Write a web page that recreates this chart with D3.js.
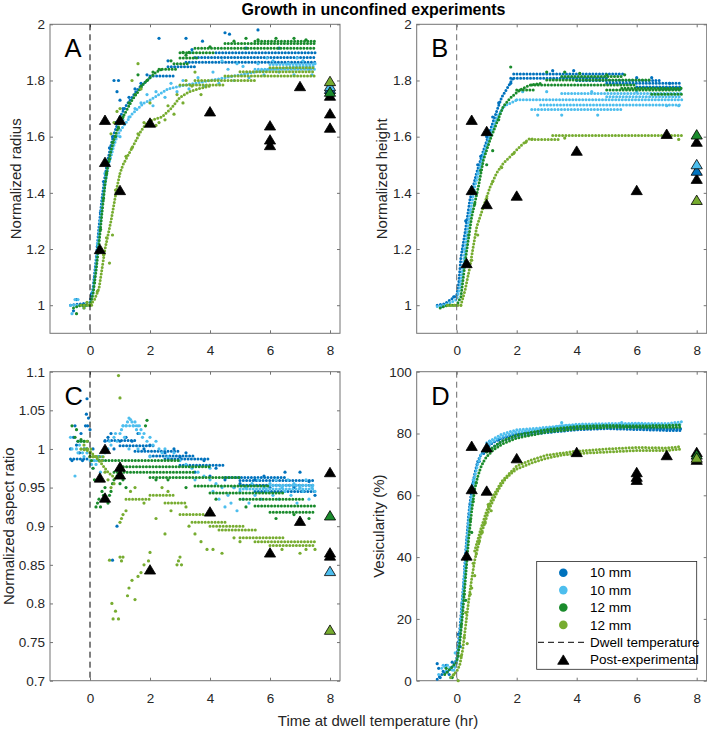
<!DOCTYPE html>
<html><head><meta charset="utf-8">
<script src="https://cdn.jsdelivr.net/npm/d3@7"></script>
<style>body{margin:0;background:#fff}svg{display:block}text{font-family:"Liberation Sans",Arial,Helvetica,sans-serif}</style>
</head><body><svg id="chart" width="707" height="731"></svg>
<script>
// ---------------- DATA ----------------
const titleText = 'Growth in unconfined experiments';
const xLabelText = 'Time at dwell temperature (hr)';
const seriesNames = ['10 mm','10 mm','12 mm','12 mm'];
const legendExtra = ['Dwell temperature','Post-experimental'];
const panelLetters = ['A','B','C','D'];
const yLabels = ['Normalized radius','Normalized height','Normalized aspect ratio','Vesicularity (%)'];
const xTicks = [0,2,4,6,8];
const yTicksA = [1,1.2,1.4,1.6,1.8,2];
const yTicksB = [1,1.2,1.4,1.6,1.8,2];
const yTicksC = [0.7,0.75,0.8,0.85,0.9,0.95,1,1.05,1.1];
const yTicksD = [0,20,40,60,80,100];

// Panel A : normalized radius  (curve = dense trace, pts = single dots, runs = [t0,t1,value] quantized rows)
const A1_curve = [[-0.65,1.0],[-0.3,1.005],[0,1.01],[0.1,1.06],[0.2,1.16],[0.3,1.28],[0.4,1.38],[0.5,1.46],[0.6,1.52],[0.7,1.57],[0.8,1.61],[0.9,1.64],[1.0,1.67],[1.2,1.71],[1.4,1.74],[1.6,1.77],[1.8,1.79],[2.0,1.81]];
const A1_pts = [[-0.55,0.98],[-0.45,1.02],[-0.2,0.995],[0.05,1.04],[0.15,1.1],[0.25,1.21],[0.35,1.33],[0.45,1.44],[0.55,1.5],[0.65,1.56],[0.75,1.6],[0.85,1.65],[0.8,1.8],[0.95,1.8],[0.9,1.76],[1.0,1.73],[1.1,1.7],[1.3,1.74],[1.5,1.77],[1.7,1.79],[1.9,1.82],[2.3,1.95],[3.2,1.95],[3.75,1.94],[4.5,1.97],[4.65,1.965],[5.6,1.98],[2.6,1.87],[3.4,1.91],[5.2,1.915],[6.3,1.915]];
const A1_runs = [[2.0,2.8,1.816],[2.6,3.5,1.849],[3.2,7.5,1.865],[3.5,7.5,1.882],[4.2,7.5,1.899]];
const A2_curve = [[-0.65,1.0],[-0.3,1.0],[0,1.0],[0.1,1.05],[0.2,1.14],[0.3,1.25],[0.4,1.35],[0.5,1.43],[0.6,1.49],[0.7,1.53],[0.8,1.57],[0.9,1.6],[1.0,1.62],[1.2,1.65],[1.4,1.68],[1.6,1.7],[1.8,1.72],[2.0,1.73],[2.3,1.75],[2.6,1.77],[3.0,1.78],[3.5,1.79],[4.0,1.8],[4.5,1.81],[5.0,1.82],[5.5,1.83],[6.0,1.84],[6.5,1.845],[7.0,1.85],[7.5,1.85]];
const A2_pts = [[-0.6,0.97],[-0.5,1.02],[-0.4,1.02],[-0.2,0.99],[0.25,1.22],[0.35,1.3],[0.5,1.47],[0.7,1.55],[1.0,1.6],[1.1,1.66],[1.3,1.67],[1.5,1.7],[1.7,1.72],[1.9,1.75],[2.1,1.71],[2.2,1.76],[2.5,1.74],[2.7,1.79],[2.9,1.76],[3.1,1.8],[3.3,1.77],[3.6,1.81],[3.8,1.78],[4.1,1.83],[4.3,1.79],[4.6,1.84],[4.8,1.8],[5.1,1.85],[5.3,1.81],[5.6,1.86],[5.8,1.82],[6.1,1.87],[6.3,1.83],[6.6,1.86],[6.8,1.82],[7.1,1.87],[7.3,1.84],[7.5,1.86],[3.4,1.9],[4.4,1.87],[5.9,1.88],[4.9,1.86],[6.9,1.88],[7.4,1.82]];
const A2_runs = [[5.5,7.5,1.84],[6.0,7.5,1.857]];
const A3_curve = [[-0.55,0.99],[-0.3,1.0],[0,1.0],[0.1,1.04],[0.2,1.12],[0.3,1.22],[0.4,1.33],[0.5,1.43],[0.6,1.5],[0.7,1.55],[0.8,1.59],[0.9,1.62],[1.0,1.65],[1.2,1.69],[1.4,1.73],[1.6,1.76],[1.8,1.79],[2.0,1.81],[2.2,1.83],[2.4,1.84]];
const A3_pts = [[-0.45,0.97],[-0.2,1.0],[0.15,1.08],[0.35,1.27],[0.45,1.38],[0.55,1.47],[0.65,1.52],[0.75,1.58],[0.85,1.6],[0.95,1.63],[1.1,1.67],[1.3,1.72],[1.5,1.75],[1.7,1.78],[1.9,1.8],[2.1,1.83],[1.6,1.82],[3.2,1.89],[3.3,1.9],[4.0,1.92],[5.2,1.95],[5.6,1.945],[6.2,1.95],[6.8,1.95],[7.2,1.945],[4.8,1.94],[2.7,1.87],[3.1,1.9]];
const A3_runs = [[2.3,2.9,1.84],[2.8,3.3,1.86],[3.0,3.6,1.88],[3.0,4.2,1.899],[3.5,7.5,1.915],[4.5,7.5,1.932],[5.5,7.5,1.94]];
const A4_curve = [[-0.3,1.0],[0,1.0],[0.15,1.02],[0.3,1.06],[0.4,1.13],[0.5,1.2],[0.6,1.25],[0.7,1.3],[0.8,1.36],[0.9,1.42],[1.0,1.47],[1.1,1.5],[1.3,1.54],[1.5,1.58],[1.7,1.62],[1.9,1.65],[2.1,1.66],[2.4,1.67],[2.7,1.7],[3.0,1.74],[3.3,1.76],[3.6,1.77],[4.0,1.78]];
const A4_pts = [[-0.2,0.99],[-0.1,1.01],[0.05,1.0],[0.25,1.05],[0.45,1.18],[0.55,1.24],[0.65,1.15],[0.75,1.25],[0.85,1.41],[0.7,1.61],[0.8,1.65],[0.9,1.69],[1.0,1.7],[1.05,1.66],[1.2,1.53],[1.4,1.56],[1.6,1.61],[1.8,1.65],[1.6,1.86],[1.4,1.8],[1.7,1.77],[2.0,1.72],[2.2,1.64],[2.3,1.65],[2.5,1.66],[2.6,1.71],[2.8,1.68],[2.9,1.75],[3.1,1.72],[3.4,1.78],[3.2,1.8],[3.5,1.83],[3.7,1.75]];
const A4_runs = [[3.0,4.5,1.784],[3.5,5.5,1.8],[4.5,7.5,1.816],[5.0,7.5,1.831],[6.0,7.5,1.845]];
const A_tri = [[0.33,1.2,'k'],[0.5,1.51,'k'],[0.5,1.66,'k'],[1,1.66,'k'],[1,1.41,'k'],[2,1.65,'k'],[4,1.69,'k'],[6,1.64,'k'],[6,1.59,'k'],[6,1.57,'k'],[7,1.78,'k'],[8,1.632,'k'],[8,1.683,'k'],[8,1.746,'k'],[8,1.77,'s1'],[8,1.78,'s2'],[8,1.76,'s3'],[8,1.798,'s4']];

// Panel B : normalized height
const B1_curve = [[-0.65,1.0],[-0.4,1.005],[-0.2,1.02],[0,1.035],[0.07,1.08],[0.14,1.17],[0.28,1.26],[0.44,1.375],[0.66,1.47],[0.89,1.55],[1.11,1.62],[1.33,1.69],[1.5,1.74],[1.67,1.77],[1.89,1.81]];
const B1_pts = [[3.2,1.835],[3.9,1.835],[0.3,1.3],[0.5,1.42],[0.7,1.5],[1.0,1.6],[1.2,1.67],[6.0,1.81],[6.5,1.81],[7.1,1.79],[-0.5,0.995],[-0.1,1.03],[0.2,1.2],[0.8,1.53],[1.4,1.72],[1.8,1.79]];
const B1_runs = [[1.9,5.6,1.823],[1.8,5.0,1.808],[4.0,6.8,1.8],[5.0,7.5,1.79],[6.0,7.5,1.777],[6.8,7.5,1.77]];
const B2_curve = [[-0.65,0.995],[-0.4,1.0],[-0.2,1.01],[0,1.02],[0.1,1.06],[0.2,1.13],[0.3,1.22],[0.4,1.3],[0.5,1.36],[0.6,1.42],[0.8,1.5],[1.0,1.57],[1.2,1.63],[1.4,1.68],[1.6,1.71],[1.8,1.72],[2.0,1.73]];
const B2_pts = [[2.7,1.677],[3.5,1.677],[4.7,1.677],[2.2,1.76],[3.0,1.76],[4.5,1.76],[6.0,1.76],[7.0,1.71],[7.4,1.71],[0.25,1.2],[0.45,1.33],[0.7,1.47],[0.9,1.54],[1.1,1.6]];
const B2_runs = [[2.0,7.5,1.731],[3.5,7.5,1.754],[2.8,7.5,1.713],[2.5,5.5,1.697],[5.0,7.5,1.742]];
const B3_curve = [[-0.55,0.99],[-0.3,1.0],[0,1.0],[0.14,1.03],[0.32,1.185],[0.5,1.315],[0.72,1.42],[0.89,1.517],[1.11,1.588],[1.33,1.648],[1.55,1.707],[1.78,1.737],[2.1,1.766],[2.44,1.784],[2.8,1.79]];
const B3_pts = [[1.8,1.848],[3.0,1.83],[3.6,1.83],[4.1,1.825],[5.0,1.82],[5.6,1.82],[1.2,1.55],[0.6,1.36],[1.0,1.5],[0.4,1.25],[0.8,1.48],[1.4,1.66]];
const B3_runs = [[2.5,6.0,1.784],[3.0,6.5,1.802],[3.5,5.5,1.814],[5.5,7.5,1.772],[5.0,7.5,1.766],[6.5,7.5,1.751],[2.0,2.6,1.766]];
const B4_curve = [[-0.3,1.0],[0,1.0],[0.14,1.0],[0.28,1.054],[0.44,1.137],[0.55,1.208],[0.67,1.28],[0.89,1.35],[1.11,1.42],[1.33,1.47],[1.55,1.505],[1.78,1.529],[2.0,1.553],[2.22,1.576],[2.44,1.594],[2.6,1.59]];
const B4_pts = [[7.4,1.59],[3.6,1.595],[0.5,1.16],[0.7,1.25],[1.0,1.38],[1.2,1.44],[1.5,1.49],[1.9,1.54],[2.3,1.58]];
const B4_runs = [[2.5,3.4,1.59],[3.2,7.5,1.604],[-0.3,0.2,1.0]];
const B_tri = [[0.33,1.15,'k'],[0.5,1.66,'k'],[0.5,1.41,'k'],[1,1.62,'k'],[1,1.36,'k'],[2,1.39,'k'],[4,1.55,'k'],[6,1.41,'k'],[7,1.61,'k'],[8,1.582,'k'],[8,1.45,'k'],[8,1.479,'s1'],[8,1.502,'s2'],[8,1.608,'s3'],[8,1.375,'s4']];

// Panel C : normalized aspect ratio
const C1_curve = [];
const C1_pts = [[-0.65,1.0],[-0.6,0.985],[-0.55,1.015],[-0.5,1.03],[-0.45,1.005],[-0.4,1.01],[-0.35,0.995],[-0.3,1.02],[-0.25,0.985],[-0.2,1.0],[-0.15,1.03],[-0.12,1.045],[-0.1,1.065],[-0.05,1.04],[0,1.025],[-0.08,1.03],[0.1,1.0],[0.3,0.99],[0.5,1.01],[0.6,1.015],[0.7,1.02],[0.8,1.0],[0.9,0.9],[0.75,0.856],[1.0,1.01],[1.2,1.015],[1.4,1.01],[1.6,1.02],[1.8,1.0],[2.0,1.005],[2.5,0.995],[3.0,0.99],[3.5,0.97],[4.0,0.965],[4.5,0.96],[5.0,0.955],[5.5,0.96],[6.0,0.95],[6.5,0.97],[7.0,0.97],[7.5,0.94],[4.8,0.95],[5.8,0.965],[6.8,0.95],[7.3,0.958],[3.8,0.985],[4.2,0.975],[2.8,1.0],[3.2,0.995]];
const C1_runs = [[-0.65,-0.05,0.987],[0.5,1.5,1.011],[1.0,2.2,1.004],[1.5,3.0,0.997],[2.0,3.5,0.991],[2.5,4.0,0.987],[3.0,4.5,0.979],[4.5,6.5,0.963],[5.0,7.5,0.959],[5.0,7.5,0.953],[5.5,7.5,0.945]];
const C2_curve = [];
const C2_pts = [[-0.65,1.015],[-0.6,1.0],[-0.5,0.965],[-0.45,1.0],[-0.4,0.995],[-0.35,1.005],[-0.3,1.01],[-0.25,0.995],[-0.2,0.99],[-0.15,1.0],[-0.1,0.995],[0,0.99],[0.05,0.98],[0.1,0.975],[0.15,0.985],[0.2,0.98],[0.25,0.99],[0.3,0.985],[0.4,0.99],[0.5,0.995],[0.6,1.0],[0.65,1.01],[0.7,1.005],[0.8,1.015],[0.85,1.02],[0.9,1.01],[1.0,1.02],[1.05,1.025],[1.1,1.03],[1.15,1.015],[1.2,1.03],[1.25,1.035],[1.3,1.04],[1.35,1.038],[1.4,1.035],[1.45,1.03],[1.5,1.035],[1.55,1.025],[1.6,1.03],[1.65,1.02],[1.7,1.025],[1.75,1.015],[1.8,1.02],[1.9,1.01],[2.0,1.015],[2.1,1.005],[2.2,1.01],[2.3,1.0],[2.4,0.995],[2.5,1.0],[2.6,0.99],[2.8,0.995],[3.0,0.985],[3.2,0.98],[3.4,0.975],[3.6,0.97],[3.8,0.965],[4.0,0.96],[4.1,0.945],[4.2,0.955],[4.3,0.935],[4.4,0.95],[4.5,0.925],[4.6,0.94],[4.7,0.93],[4.8,0.95],[4.9,0.92],[5.0,0.945],[5.1,0.935],[5.2,0.95],[5.3,0.93],[5.4,0.955],[5.5,0.94],[5.6,0.96],[5.7,0.935],[5.8,0.95],[5.9,0.945],[6.0,0.955],[6.1,0.94],[6.2,0.96],[6.3,0.935],[6.4,0.95],[6.5,0.945],[6.6,0.96],[6.7,0.94],[6.8,0.955],[6.9,0.93],[7.0,0.95],[7.1,0.945],[7.2,0.96],[7.3,0.935],[7.4,0.95],[7.5,0.945],[0.35,0.97],[1.6,1.0],[2.0,0.99],[1.3,1.0],[3.5,0.96],[4.0,0.975]];
const C2_runs = [[5.0,7.5,0.948],[6.0,7.5,0.953],[0.0,0.5,0.985],[1.1,1.7,1.03]];
const C3_curve = [];
const C3_pts = [[-0.6,1.03],[-0.5,1.015],[-0.45,1.025],[-0.4,1.01],[-0.3,1.012],[-0.2,1.01],[-0.1,1.0],[0,0.99],[0.1,0.975],[0.2,0.925],[0.25,0.93],[0.3,0.935],[0.35,0.925],[0.4,0.945],[0.45,0.94],[0.5,0.95],[0.55,0.935],[0.6,0.93],[0.65,0.94],[0.7,0.945],[0.75,0.955],[0.8,0.96],[0.9,0.965],[1.0,0.955],[1.1,0.96],[1.2,0.95],[1.9,1.037],[1.85,1.03],[2.2,0.96],[2.6,0.96],[3.2,0.95],[4.2,0.935],[5.2,0.925],[6.2,0.91],[7.0,0.905],[7.3,0.91],[6.8,0.915],[0.15,0.96],[0.05,0.985]];
const C3_runs = [[-0.3,0.0,1.01],[0.3,3.0,0.985],[1.0,4.0,0.977],[0.8,3.5,0.97],[2.0,5.0,0.963],[3.5,6.0,0.952],[4.0,6.5,0.943],[5.0,7.2,0.935],[5.5,7.5,0.926],[6.0,7.5,0.918]];
const C4_curve = [[-0.3,1.0],[0,0.997],[0.3,0.985],[0.6,0.97],[0.9,0.96]];
const C4_pts = [[-0.2,1.005],[-0.1,1.01],[0,0.995],[0.1,0.99],[0.2,0.99],[0.4,0.985],[0.5,0.97],[0.6,0.96],[0.7,0.95],[0.8,0.955],[0.95,1.095],[1.0,1.066],[0.65,0.856],[0.73,0.8],[0.77,0.78],[0.85,0.79],[0.95,0.78],[1.0,0.86],[1.05,0.855],[1.1,0.86],[1.25,0.81],[1.3,0.82],[1.4,0.83],[1.5,0.805],[1.6,0.835],[1.7,0.84],[1.8,0.85],[1.95,0.855],[2.0,0.866],[1.1,0.915],[1.2,0.92],[1.35,0.945],[1.5,0.95],[1.8,0.93],[2.2,0.91],[2.5,0.89],[2.9,0.85],[2.95,0.855],[3.0,0.86],[3.05,0.85],[3.3,0.9],[3.5,0.89],[3.7,0.88],[3.9,0.87],[4.1,0.87],[4.4,0.865],[5.0,0.88],[4.8,0.885],[6.4,0.87],[7.0,0.865],[7.2,0.87],[7.5,0.87],[1.0,0.905],[1.05,0.91],[2.7,0.92],[3.2,0.925],[2.4,0.95],[2.6,0.945]];
const C4_runs = [[-0.3,0.1,1.0],[0.0,0.5,0.99],[1.2,2.0,0.935],[2.0,2.8,0.94],[2.5,3.2,0.93],[3.0,3.8,0.915],[3.4,4.5,0.905],[4.0,5.2,0.9],[4.3,5.6,0.895],[5.0,6.5,0.885],[5.5,7.5,0.88],[6.0,7.5,0.875]];
const C_tri = [[0.33,0.963,'k'],[0.5,1.0,'k'],[0.5,0.937,'k'],[1,0.977,'k'],[1,0.967,'k'],[2,0.844,'k'],[4,0.919,'k'],[6,0.866,'k'],[7,0.907,'k'],[8,0.97,'k'],[8,0.866,'k'],[8,0.862,'k'],[8,0.842,'s2'],[8,0.914,'s3'],[8,0.766,'s4']];

// Panel D : vesicularity (%)
const D1_curve = [[-0.65,0.5],[-0.5,2],[-0.3,3],[-0.1,5],[0,7],[0.05,12],[0.1,16],[0.15,22],[0.2,28],[0.25,34],[0.3,42],[0.35,48],[0.4,54],[0.5,62],[0.6,67],[0.7,71],[0.8,73],[0.9,74.5],[1.0,75.5],[1.2,77],[1.5,78.5],[2.0,80],[2.5,80.5],[3.0,81],[3.5,81.5],[4.0,82],[5.0,82.5],[6.0,82],[7.0,81.5],[7.5,81.5]];
const D1_curve2 = [[0.9,73.5],[1.5,77.5],[2,79.2],[3,80.3],[4,81.2],[5,81.6],[6,81.3],[7,81],[7.5,81]];
const D1_pts = [[-0.65,5.5],[-0.6,4],[-0.55,1],[-0.45,3],[-0.35,5],[-0.25,2],[-0.15,6],[0.05,15],[0.12,11],[0.18,25],[0.28,37],[0.45,57],[0.55,64],[0.75,71],[1.1,77.5],[1.4,78]];
const D2_curve = [[-0.5,4],[-0.3,5],[-0.1,3],[0,6],[0.1,14],[0.2,27],[0.3,40],[0.4,52],[0.5,60],[0.6,66],[0.7,70],[0.8,73],[1.0,76],[1.2,77.5],[1.5,79],[2.0,80.5],[2.5,81],[3.0,81.5],[3.5,82.5],[4.0,82.5],[5.0,82.5],[6.0,83],[7.0,82.5],[7.5,83]];
const D2_curve2 = [[1.0,77],[1.5,79.8],[2,81.2],[3,82],[4,83],[5,83.2],[6,83.3],[7,83.2],[7.5,83.8]];
const D2_pts = [[-0.6,2],[-0.45,5],[-0.35,3],[-0.2,1],[-0.05,9],[0.15,20],[0.25,33],[0.35,46],[0.45,56],[0.55,65],[3.5,83.5],[5.5,83.5]];
const D3_curve = [[-0.4,2],[-0.2,4],[0,6],[0.1,12],[0.2,22],[0.3,34],[0.4,46],[0.5,55],[0.6,62],[0.7,66],[0.8,69],[0.9,71],[1.0,72.5],[1.2,74.5],[1.5,76.5],[2.0,78.5],[2.5,79.5],[3.0,80.5],[3.5,81],[4.0,81.5],[5.0,82],[6.0,82],[7.0,82],[7.5,82]];
const D3_curve2 = [[1.0,74],[1.5,77.5],[2,79.5],[3,81.3],[4,82.3],[5,82.6],[6,82.5],[7,82.6],[7.5,82.8]];
const D3_pts = [[-0.35,4],[-0.15,1],[0.05,8],[0.15,18],[0.25,28],[0.35,40],[0.45,52],[0.55,58],[0.65,64],[0.3,26],[0.5,48]];
const D4_curve = [[-0.2,1],[0,3],[0.1,5],[0.2,10],[0.3,18],[0.4,26],[0.5,33],[0.6,39],[0.7,43],[0.8,47],[0.9,50],[1.0,53],[1.1,56],[1.2,58],[1.4,62],[1.6,65],[1.8,67],[2.0,68.5],[2.5,70.5],[3.0,72],[3.5,73],[4.0,73.5],[5.0,74],[6.0,74.5],[7.0,74.5],[7.5,75]];
const D4_curve2 = [[0.6,42],[0.8,49],[1.0,55],[1.2,59.5],[1.5,64.5],[2,69.5],[2.5,71.5],[3,73],[4,74.3],[5,75],[6,75.5],[7,75.3],[7.5,75.8]];
const D4_pts = [[-0.1,2],[0.05,0],[0.15,8],[0.25,14],[0.3,22],[0.35,12],[0.45,28],[0.5,30],[0.55,38],[0.6,34],[0.65,41],[0.75,45],[0.85,48],[0.95,51],[1.05,57],[1.15,55]];
const D_tri = [[0.33,40.5,'k'],[0.5,76,'k'],[0.5,62,'k'],[1,75.5,'k'],[1,61.5,'k'],[2,72,'k'],[4,74,'k'],[6,67.5,'k'],[6,66,'k'],[6,65,'k'],[7,73,'k'],[8,71.5,'k'],[8,74,'k'],[8,73.2,'s3'],[8,72.2,'s4']];

// ---------------- STYLE / LAYOUT ----------------
const COLORS = ['#0072BD','#4DBEEE','#1A8B2C','#77AC30'];
const TRI_COLORS = {k:'#000000', s1:COLORS[0], s2:COLORS[1], s3:COLORS[2], s4:COLORS[3]};
const AXIS_COLOR = '#737373', TEXT_COLOR = '#262626';
const W = 290, H = 309;

const panels = [
  {left:50, top:24.3, yDomain:[0.9,2], yTicks:yTicksA, dash:'#000', ylabX:20.7,
   series:[[ [A1_curve],A1_pts,A1_runs ],[ [A2_curve],A2_pts,A2_runs ],[ [A3_curve],A3_pts,A3_runs ],[ [A4_curve],A4_pts,A4_runs ]], tri:A_tri},
  {left:416.7, top:24.3, yDomain:[0.9,2], yTicks:yTicksB, dash:'#6a6a6a', ylabX:386.7,
   series:[[ [B1_curve],B1_pts,B1_runs ],[ [B2_curve],B2_pts,B2_runs ],[ [B3_curve],B3_pts,B3_runs ],[ [B4_curve],B4_pts,B4_runs ]], tri:B_tri},
  {left:50, top:371.7, yDomain:[0.7,1.1], yTicks:yTicksC, dash:'#000', ylabX:13.5,
   series:[[ [C1_curve],C1_pts,C1_runs ],[ [C2_curve],C2_pts,C2_runs ],[ [C3_curve],C3_pts,C3_runs ],[ [C4_curve],C4_pts,C4_runs ]], tri:C_tri},
  {left:416.7, top:371.7, yDomain:[0,100], yTicks:yTicksD, dash:'#6a6a6a', ylabX:384,
   series:[[ [D1_curve,D1_curve2],D1_pts,[] ],[ [D2_curve,D2_curve2],D2_pts,[] ],[ [D3_curve,D3_curve2],D3_pts,[] ],[ [D4_curve,D4_curve2],D4_pts,[] ]], tri:D_tri}
];

const svg = d3.select('#chart');
svg.append('rect').attr('width',707).attr('height',731).attr('fill','#fff');

const triPath = 'M0,-4.8L5.6,4.6L-5.6,4.6Z';
const dotStyle = sel => sel.attr('fill','none').attr('stroke-width',3).attr('stroke-linecap','round').attr('stroke-dasharray','0 3.3');

panels.forEach((p,i) => {
  const x = d3.scaleLinear().domain([-4/3, 25/3]).range([p.left, p.left+W]);
  const y = d3.scaleLinear().domain(p.yDomain).range([p.top+H, p.top]);
  const g = svg.append('g');

  const fmt = d => String(d);
  const styleAxis = a => { a.select('.domain').remove(); a.selectAll('line').attr('stroke',AXIS_COLOR);
    a.selectAll('text').attr('fill',TEXT_COLOR).style('font-size','13.5px').style('font-family','"Liberation Sans",Arial,sans-serif'); };
  g.append('g').attr('transform',`translate(0,${p.top+H})`).call(d3.axisBottom(x).tickValues(xTicks).tickFormat(fmt).tickSize(-3).tickPadding(12.3)).call(styleAxis);
  g.append('g').attr('transform',`translate(0,${p.top})`).call(d3.axisTop(x).tickValues(xTicks).tickFormat('').tickSize(-3)).call(styleAxis);
  g.append('g').attr('transform',`translate(${p.left},0)`).call(d3.axisLeft(y).tickValues(p.yTicks).tickFormat(fmt).tickSize(-3).tickPadding(5)).call(styleAxis);
  g.append('g').attr('transform',`translate(${p.left+W},0)`).call(d3.axisRight(y).tickValues(p.yTicks).tickFormat('').tickSize(-3)).call(styleAxis);
  g.append('rect').attr('x',p.left).attr('y',p.top).attr('width',W).attr('height',H).attr('fill','none').attr('stroke',AXIS_COLOR).attr('stroke-width',1);

  const data = g.append('g');
  const line = d3.line().x(d=>x(d[0])).y(d=>y(d[1]));
  p.series.forEach((s,si) => {
    const c = COLORS[si];
    const [curves, pts, runs] = s;
    curves.forEach(cv => { if (cv.length) data.append('path').datum(cv).attr('d',line).attr('stroke',c).call(dotStyle); });
    runs.forEach(r => data.append('line').attr('x1',x(r[0])).attr('x2',x(r[1])).attr('y1',y(r[2])).attr('y2',y(r[2])).attr('stroke',c).call(dotStyle));
    data.selectAll(null).data(pts).enter().append('circle').attr('cx',d=>x(d[0])).attr('cy',d=>y(d[1])).attr('r',1.6).attr('fill',c);
  });

  g.append('line').attr('x1',x(0)).attr('x2',x(0)).attr('y1',p.top).attr('y2',p.top+H)
    .attr('stroke',p.dash).attr('stroke-width',1).attr('stroke-dasharray','6 4');

  const triSorted = p.tri.filter(d=>d[2]==='k').concat(p.tri.filter(d=>d[2]!=='k').sort((a,b)=>a[2]<b[2]?-1:1));
  g.selectAll(null).data(triSorted).enter().append('path').attr('d',triPath)
    .attr('transform',d=>`translate(${x(d[0])},${y(d[1])})`)
    .attr('fill',d=>TRI_COLORS[d[2]]).attr('stroke','#000').attr('stroke-width',0.8);

  g.append('text').attr('x',p.left+14.5).attr('y',p.top+32.8).text(panelLetters[i]).style('font-size','25.5px').attr('fill','#000');
  g.append('text').attr('transform',`translate(${p.ylabX},${p.top+H/2}) rotate(-90)`).attr('text-anchor','middle')
    .style('font-size','15px').attr('fill',TEXT_COLOR).text(yLabels[i]);

  if (i === 3) {
    const lg = svg.append('g');
    lg.append('rect').attr('x',536.7).attr('y',561.5).attr('width',160).attr('height',107.8).attr('fill','#fff').attr('stroke',TEXT_COLOR).attr('stroke-width',0.8);
    const rowY = k => 572.7 + k*17.4;
    seriesNames.forEach((nm,k) => {
      lg.append('circle').attr('cx',563.3).attr('cy',rowY(k)).attr('r',4.3).attr('fill',COLORS[k]);
      lg.append('text').attr('x',590).attr('y',rowY(k)).attr('dy','0.35em').style('font-size','13.5px').attr('fill','#000').text(nm);
    });
    lg.append('line').attr('x1',538).attr('x2',587).attr('y1',rowY(4)).attr('y2',rowY(4)).attr('stroke','#000').attr('stroke-width',1).attr('stroke-dasharray','6 4');
    lg.append('text').attr('x',590).attr('y',rowY(4)).attr('dy','0.35em').style('font-size','13.5px').attr('fill','#000').text(legendExtra[0]);
    lg.append('path').attr('d',triPath).attr('transform',`translate(563.3,${rowY(5)})`).attr('fill','#000').attr('stroke','#000').attr('stroke-width',0.8);
    lg.append('text').attr('x',590).attr('y',rowY(5)).attr('dy','0.35em').style('font-size','13.5px').attr('fill','#000').text(legendExtra[1]);
  }
});

svg.append('text').attr('x',373.5).attr('y',14.5).attr('text-anchor','middle').style('font-size','16px').style('font-weight','bold').attr('fill','#000').text(titleText);
svg.append('text').attr('x',378).attr('y',726).attr('text-anchor','middle').style('font-size','15px').attr('fill',TEXT_COLOR).text(xLabelText);
</script></body></html>
